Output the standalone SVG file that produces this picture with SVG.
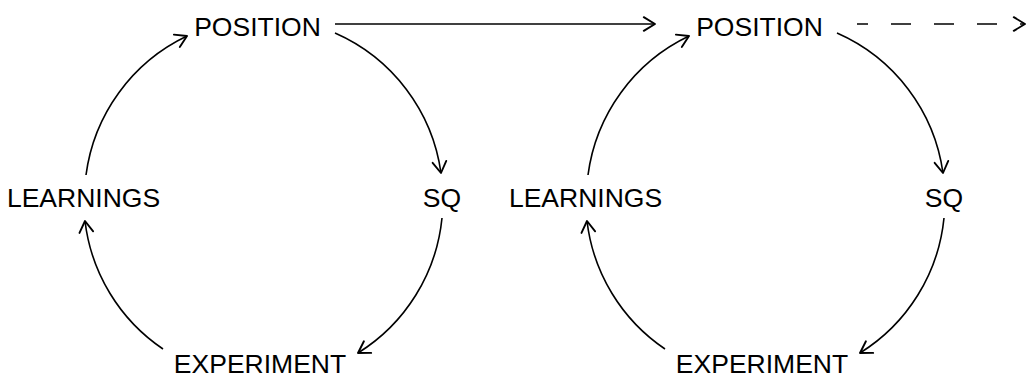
<svg xmlns="http://www.w3.org/2000/svg" width="1027" height="378" viewBox="0 0 1027 378">
<defs>
<marker id="arr" markerUnits="userSpaceOnUse" markerWidth="20" markerHeight="20" viewBox="-12 -8 14 16" refX="0" refY="0" orient="auto" overflow="visible">
<path d="M-9,-5.5 L0,0 L-9,5.5" fill="none" stroke="#000" stroke-width="1.5" stroke-linecap="round" stroke-linejoin="round"/>
</marker>
<style>
text{font-family:"Liberation Sans",Arial,sans-serif;font-size:26.5px;fill:#000;text-anchor:middle}
.c{fill:none;stroke:#000;stroke-width:1.6;marker-end:url(#arr)}
.d{stroke-dasharray:20 23;stroke-dashoffset:9}
</style>
</defs>
<rect width="1027" height="378" fill="#fff"/>
<g id="connectors">
<path class="c" d="M86,175 A180,180 0 0 1 187,36"/>
<path class="c" d="M335,33 A180,180 0 0 1 441,173"/>
<path class="c" d="M442,218 A180,180 0 0 1 358,353"/>
<path class="c" d="M163,349 A180,180 0 0 1 85,221"/>
<path class="c" d="M335,24 L655,24"/>
<path class="c" d="M588,175 A180,180 0 0 1 689,36"/>
<path class="c" d="M837,33 A180,180 0 0 1 943,173"/>
<path class="c" d="M944,218 A180,180 0 0 1 860,353"/>
<path class="c" d="M665,349 A180,180 0 0 1 587,221"/>
<path class="c d" d="M857,24 L1025,24"/>
</g>
<g id="position1"><text x="257.5" y="36">POSITION</text></g>
<g id="sq1"><text x="442" y="207">SQ</text></g>
<g id="experiment1"><text x="260" y="373">EXPERIMENT</text></g>
<g id="learnings1"><text x="83.5" y="207">LEARNINGS</text></g>
<g id="position2"><text x="759.5" y="36">POSITION</text></g>
<g id="sq2"><text x="944" y="207">SQ</text></g>
<g id="experiment2"><text x="762" y="373">EXPERIMENT</text></g>
<g id="learnings2"><text x="585.5" y="207">LEARNINGS</text></g>
</svg>
